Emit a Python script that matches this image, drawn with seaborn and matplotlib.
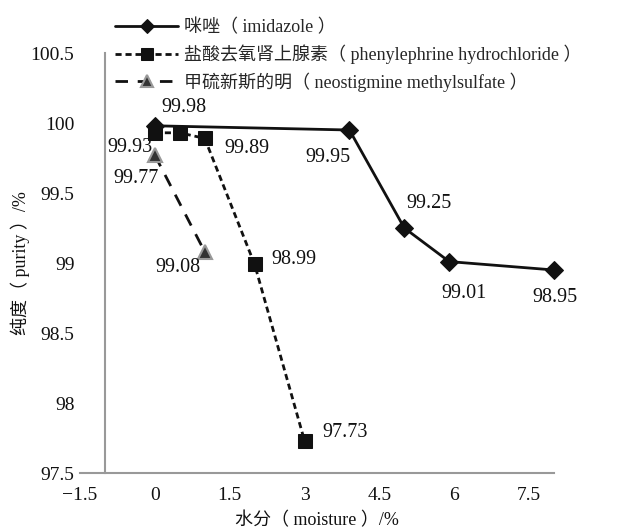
import matplotlib
matplotlib.use('Agg')

import pandas as pd
import matplotlib.pyplot as plt
import seaborn as sns

# 数据
imid_x = [0, 3.9, 5, 5.9, 8]
imid_y = [99.98, 99.95, 99.25, 99.01, 98.95]
phen_x = [0, 0.5, 1, 2, 3]
phen_y = [99.93, 99.93, 99.89, 98.99, 97.73]
neo_x = [0, 1]
neo_y = [99.77, 99.08]

labels = ['咪唑（ imidazole ）',
          '盐酸去氧肾上腺素（ phenylephrine hydrochloride ）',
          '甲硫新斯的明（ neostigmine methylsulfate ）']

x_ticks = [-1.5, 0, 1.5, 3, 4.5, 6, 7.5]
x_tick_labels = ['\u22121.5', '0', '1.5', '3', '4.5', '6', '7.5']
y_ticks = [97.5, 98, 98.5, 99, 99.5, 100, 100.5]
y_tick_labels = ['97.5', '98', '98.5', '99', '99.5', '100', '100.5']

sns.set_style('white')
plt.rcParams['font.family'] = ['Liberation Serif', 'Noto Sans CJK SC']
plt.rcParams['axes.unicode_minus'] = True

df_imid = pd.DataFrame({'x': imid_x, 'y': imid_y})
df_phen = pd.DataFrame({'x': phen_x, 'y': phen_y})
df_neo = pd.DataFrame({'x': neo_x, 'y': neo_y})

fig = plt.figure(figsize=(6.19, 5.31), dpi=100)
ax = fig.add_axes([80 / 619, 1 - 473 / 531, 474 / 619, 420 / 531])

sns.lineplot(data=df_imid, x='x', y='y', ax=ax, color='#111111', linewidth=2,
             marker='D', markersize=9, markeredgecolor='#111111',
             clip_on=False, label=labels[0])
sns.lineplot(data=df_phen, x='x', y='y', ax=ax, color='#111111', linewidth=2,
             linestyle=(0, (2.2, 1.4)), marker='s', markersize=10,
             markeredgecolor='#111111', clip_on=False, label=labels[1])
sns.lineplot(data=df_neo, x='x', y='y', ax=ax, color='#111111', linewidth=2,
             linestyle=(0, (4.5, 3.5)), marker='^', markersize=10,
             markerfacecolor='#333333', markeredgecolor='#999999',
             markeredgewidth=1.5, clip_on=False, label=labels[2])

# 数据标签
def put_labels(xs, ys, offsets):
    for xv, yv, off in zip(xs, ys, offsets):
        if off is None:
            continue
        ax.annotate(f'{yv:.2f}', (xv, yv), xytext=off, textcoords='offset pixels',
                    ha='center', va='center', fontsize=14.5, color='#111111')

put_labels(imid_x, imid_y, [(29, 18), (-21, -27), (25, 25), (15, -32), (1, -27)])
put_labels(phen_x, phen_y, [(-25, -15), None, (42, -10), (39, 5), (41, 8)])
put_labels(neo_x, neo_y, [(-19, -23), (-27, -16)])

ax.set_xlim(-1.5, 8)
ax.set_ylim(97.5, 100.5)
ax.set_xticks(x_ticks)
ax.set_xticklabels(x_tick_labels)
ax.set_yticks(y_ticks)
ax.set_yticklabels(y_tick_labels)

for s in ['top', 'right']:
    ax.spines[s].set_visible(False)
ax.spines['left'].set_position(('data', -1))
for s in ['left', 'bottom']:
    ax.spines[s].set_color('#999999')
    ax.spines[s].set_linewidth(1.5)

ax.tick_params(axis='both', which='major', direction='out', length=6, width=1.5,
               color='#999999', labelsize=14, labelcolor='#111111')
ax.tick_params(axis='y', pad=16)
ax.tick_params(axis='x', pad=4)

ax.set_xlabel('水分（ moisture ）/%', fontsize=13, color='#111111', labelpad=6)
ax.set_ylabel('纯度（ purity ）/%', fontsize=13, color='#111111')
ax.yaxis.set_label_coords(-50 / 474, 0.5)

handles, lbls = ax.get_legend_handles_labels()
ax.get_legend().remove()
fig.legend(handles, lbls, loc='upper left', bbox_to_anchor=(115 / 619, 1 - 19 / 531),
           frameon=False, fontsize=13, handlelength=3.5, handletextpad=0.3,
           labelspacing=0.45, borderpad=0, borderaxespad=0, numpoints=1,
           markerscale=0.8)

fig.savefig('out.png', dpi=100)
